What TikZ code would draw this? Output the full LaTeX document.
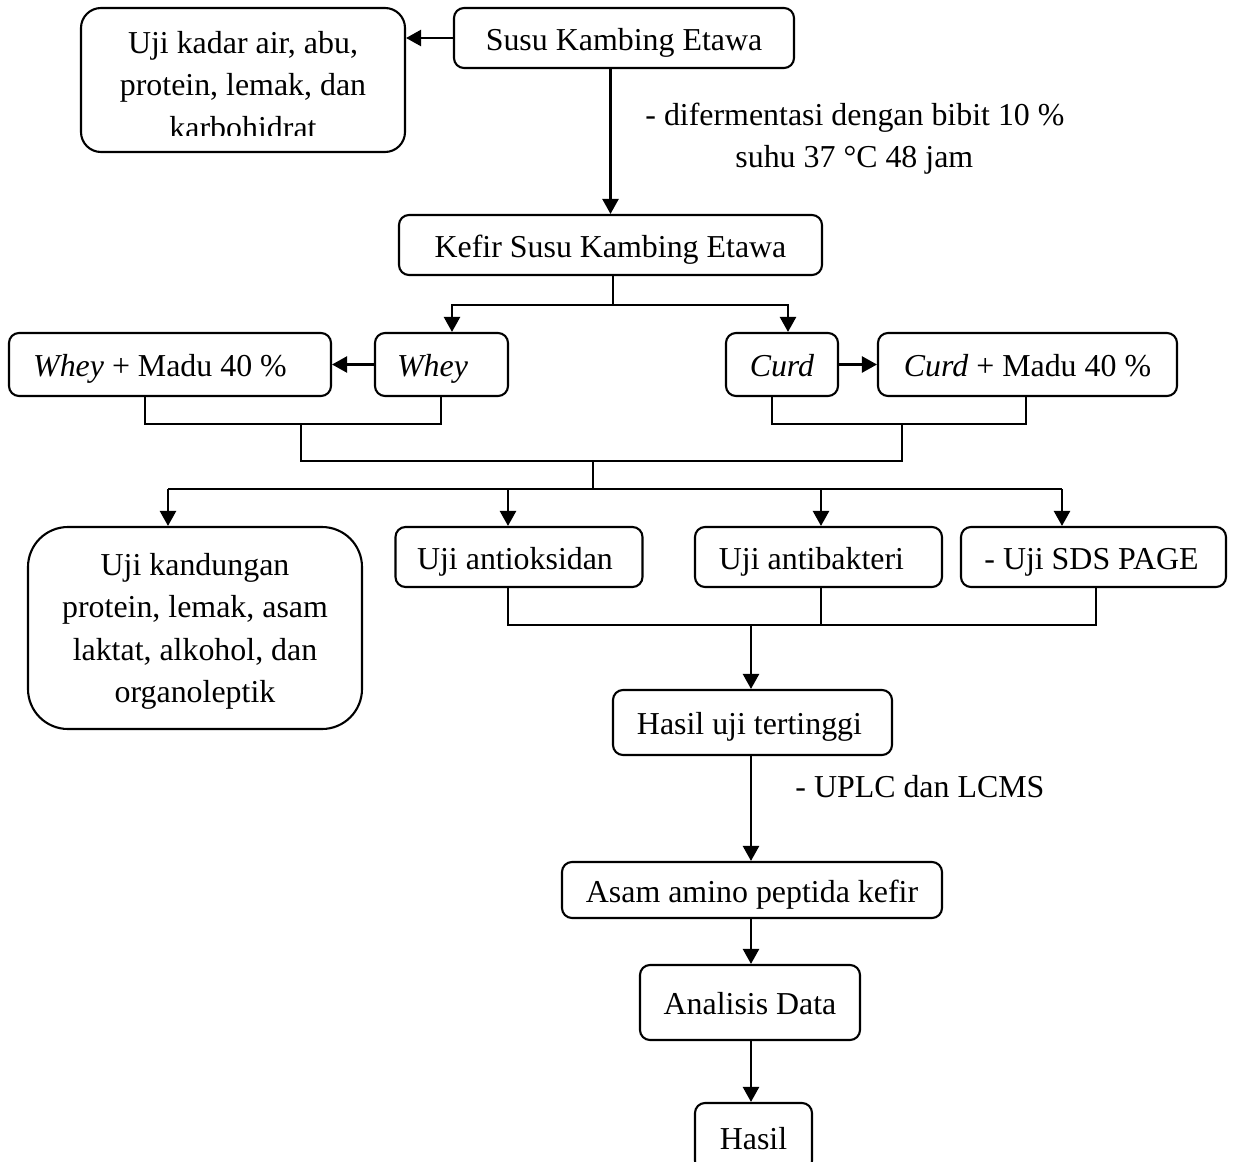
\documentclass[tikz,border=0pt]{standalone}
\usepackage{fontspec}
\setmainfont{Liberation Serif}
\usetikzlibrary{arrows.meta,calc}
\begin{document}
\begin{tikzpicture}[x=0.5pt,y=-0.5pt,
  every node/.style={font=\fontsize{15.95pt}{21.2pt}\selectfont},
  box/.style={draw, line width=1.05pt, rounded corners=5pt, inner sep=0pt, align=center},
  one/.style={text height=12pt, text depth=0pt},
  ln/.style={line width=0.85pt},
  arr/.style={line width=1.2pt, -{Triangle[length=7.5pt,width=8pt]}},
  lbl/.style={anchor=base west, inner sep=0pt}]
\fill[white] (0,0) rectangle (1233,1162);
\useasboundingbox (0,0) rectangle (1233,1162);

\node[box, one, minimum width=170pt, minimum height=30pt] (susu) at (624,38) {Susu Kambing Etawa};
\node[box, rounded corners=10pt, minimum width=162pt, minimum height=72pt] (kadar) at (243,80) {};
\begin{scope}
\clip (81,8) rectangle (405,135);
\node[align=center] (kadartext) at (243,85) {Uji kadar air, abu,\\protein, lemak, dan\\karbohidrat};
\end{scope}
\node[box, one, minimum width=211.5pt, minimum height=30pt] (kefir) at (610.5,245) {Kefir Susu Kambing Etawa};
\node[box, one, minimum width=161pt, minimum height=31.5pt] (wheymadu) at (170,364.5) {\textit{Whey} + Madu 40 \%\hspace{10pt}};
\node[box, one, minimum width=66.5pt, minimum height=31.5pt] (whey) at (441.5,364.5) {\textit{Whey}\hspace{9pt}};
\node[box, one, minimum width=56pt, minimum height=31.5pt] (curd) at (782,364.5) {\textit{Curd}};
\node[box, one, minimum width=149.5pt, minimum height=31.5pt] (curdmadu) at (1027.5,364.5) {\textit{Curd} + Madu 40 \%};
\node[box, text depth=0pt, rounded corners=20pt, minimum width=167pt, minimum height=101pt] (uji) at (195,628) {Uji kandungan\\protein, lemak, asam\\laktat, alkohol, dan\\organoleptik};
\node[box, one, minimum width=123.5pt, minimum height=30pt] (antiok) at (519,557) {Uji antioksidan\hspace{4pt}};
\node[box, one, minimum width=123.5pt, minimum height=30pt] (antibak) at (818.5,557) {Uji antibakteri\hspace{7pt}};
\node[box, one, minimum width=132.5pt, minimum height=30pt] (sds) at (1093.5,557) {- Uji SDS PAGE\hspace{2pt}};
\node[box, one, minimum width=139.5pt, minimum height=32.5pt] (hasiluji) at (752.5,722.5) {Hasil uji tertinggi\hspace{3pt}};
\node[box, one, minimum width=190pt, minimum height=28pt] (asam) at (752,890) {Asam amino peptida kefir};
\node[box, one, minimum width=110pt, minimum height=37.5pt] (analisis) at (750,1002.5) {Analisis Data};
\node[box, one, minimum width=58.5pt, minimum height=34pt] (hasil) at (753.5,1137) {Hasil};

\node[lbl] (ferm1) at (645,125) {- difermentasi dengan bibit 10 \%};
\node[lbl] (ferm2) at (735,167) {suhu 37 °C 48 jam};
\node[lbl] (uplc) at (795,797) {- UPLC dan LCMS};

\draw[arr] (susu.west) -- (kadar.east |- susu.west);
\draw[arr] (susu.south -| kefir.north) -- (kefir.north);

\coordinate (kj) at (613,305);
\coordinate (wa) at (452,305);
\coordinate (ca) at (788,305);
\draw[ln] (kefir.south -| kj) -- (kj);
\draw[arr] (kj) -- (wa) -- (whey.north -| wa);
\draw[arr] (kj) -- (ca) -- (curd.north -| ca);
\draw[arr] (whey.west) -- (wheymadu.east);
\draw[arr] (curd.east) -- (curdmadu.west);

\coordinate (w1) at (145,424); \coordinate (w2) at (441,424); \coordinate (wm) at (301,424);
\draw[ln] (wheymadu.south -| w1) -- (w1) -- (w2) -- (whey.south -| w2);
\coordinate (c1) at (772,424); \coordinate (c2) at (1026,424); \coordinate (cm) at (902,424);
\draw[ln] (curd.south -| c1) -- (c1) -- (c2) -- (curdmadu.south -| c2);
\coordinate (m1) at (301,461); \coordinate (m2) at (902,461); \coordinate (mm) at (593,461);
\draw[ln] (wm) -- (m1) -- (m2) -- (cm);
\coordinate (d0) at (593,489); \coordinate (d1) at (168,489); \coordinate (d2) at (508,489);
\coordinate (d3) at (821,489); \coordinate (d4) at (1062,489);
\draw[ln] (mm) -- (d0);
\draw[ln] (d1) -- (d4);
\draw[arr] (d1) -- (uji.north -| d1);
\draw[arr] (d2) -- (antiok.north -| d2);
\draw[arr] (d3) -- (antibak.north -| d3);
\draw[arr] (d4) -- (sds.north -| d4);

\coordinate (e2) at (508,625); \coordinate (e3) at (821,625);
\coordinate (e4) at (1096,625); \coordinate (e0) at (751,625);
\draw[ln] (antiok.south -| e2) -- (e2) -- (e4) -- (sds.south -| e4);
\draw[ln] (antibak.south -| e3) -- (e3);
\draw[arr] (e0) -- (hasiluji.north -| e0);
\draw[arr] (hasiluji.south -| e0) -- (asam.north -| e0);
\draw[arr] (asam.south -| e0) -- (analisis.north -| e0);
\draw[arr] (analisis.south -| e0) -- (hasil.north -| e0);
\end{tikzpicture}
\end{document}
